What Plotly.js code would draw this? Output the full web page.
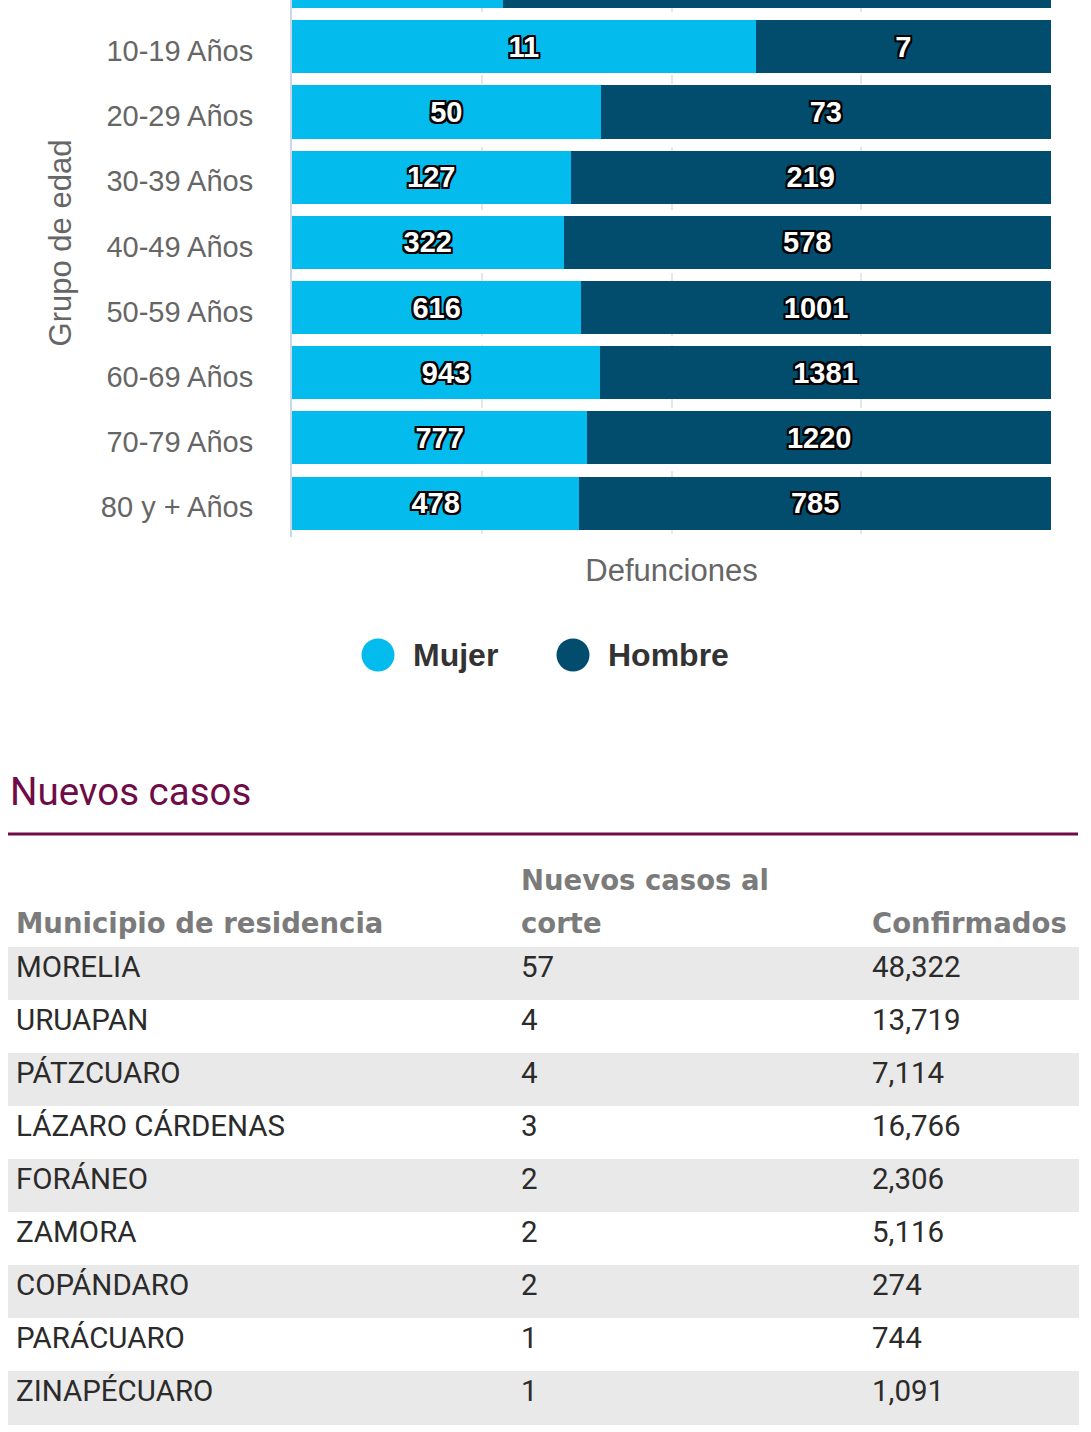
<!DOCTYPE html>
<html>
<head>
<meta charset="utf-8">
<script src="https://cdn.plot.ly/plotly-3.0.1.min.js"></script>
<style>
  html, body { margin: 0; padding: 0; background: #ffffff; width: 1091px; height: 1432px; overflow: hidden; }
  #chart { width: 1091px; height: 791px; margin-top: -51px; }
  #table { width: 1091px; height: 692px; }
</style>
</head>
<body>
<div id="chart"></div>
<div id="table"></div>
<script>
// ---- Data: deaths by age group and sex ----
const ageGroups = ['0-9 Años', '10-19 Años', '20-29 Años', '30-39 Años', '40-49 Años',
                   '50-59 Años', '60-69 Años', '70-79 Años', '80 y + Años'];
const mujer  = [5, 11, 50, 127, 322, 616, 943, 777, 478];
const hombre = [13, 7, 73, 219, 578, 1001, 1381, 1220, 785];
const seriesNames = ['Mujer', 'Hombre'];

// ---- Data: new cases table ----
const tableHeaders = [['', 'Municipio de residencia'], ['Nuevos casos al', 'corte'], ['', 'Confirmados']];
const municipios = ['MORELIA', 'URUAPAN', 'PÁTZCUARO', 'LÁZARO CÁRDENAS', 'FORÁNEO',
                    'ZAMORA', 'COPÁNDARO', 'PARÁCUARO', 'ZINAPÉCUARO'];
const nuevosCasos = [57, 4, 4, 3, 2, 2, 2, 1, 1];
const confirmados = [48322, 13719, 7114, 16766, 2306, 5116, 274, 744, 1091];

// ---- Styles ----
const C_MUJER = '#03bbec';
const C_HOMBRE = '#024d6e';
const C_TITLE = '#6e0c48';
const outline = '-2px -2px 0 #000, 2px -2px 0 #000, -2px 2px 0 #000, 2px 2px 0 #000, 0 2px 0 #000, 0 -2px 0 #000, 2px 0 0 #000, -2px 0 0 #000';
const labelFont = { family: 'Liberation Sans, Arial, sans-serif', size: 29, color: '#ffffff', weight: 700, shadow: outline };
// the top row lies above the visible page (cropped in the reference)
const labelPos = ageGroups.map((_, i) => i === 0 ? 'none' : 'inside');
const visibleTicks = ageGroups.slice(1);

function barTrace(name, values, color) {
  return {
    type: 'bar', orientation: 'h', name: name,
    y: ageGroups, x: values,
    marker: { color: color, line: { width: 0 } },
    text: values, texttemplate: '%{text}',
    textposition: labelPos, insidetextanchor: 'middle',
    constraintext: 'none',
    textfont: labelFont, insidetextfont: labelFont,
    showlegend: false, hoverinfo: 'skip'
  };
}

const gray = '#666666';
const axisFont = 'Liberation Sans, Arial, sans-serif';

// geometry of the plot area inside the chart div (div starts 51px above the page)
const DIV_H = 791, PLOT_W = 759, PLOT_H = 588, PLOT_L = 292, OFF = 51;
const legY = (PLOT_H - (655 + OFF)) / PLOT_H;
const legendItems = [
  { name: seriesNames[0], color: C_MUJER, cx: 378, tx: 411 },
  { name: seriesNames[1], color: C_HOMBRE, cx: 573, tx: 606 }
];

const layout1 = {
  width: 1091, height: DIV_H,
  margin: { l: PLOT_L, r: 1091 - PLOT_L - PLOT_W, t: 0, b: DIV_H - PLOT_H, pad: 0 },
  paper_bgcolor: '#ffffff', plot_bgcolor: '#ffffff',
  barmode: 'stack', barnorm: 'percent', bargap: 0.186,
  font: { family: axisFont, color: gray },
  xaxis: {
    range: [0, 100], tick0: 0, dtick: 25,
    showticklabels: false, ticks: '', zeroline: false,
    showgrid: true, gridcolor: '#e6e6e6', gridwidth: 2, griddash: 'dash',
    showline: false, fixedrange: true,
    title: { text: 'Defunciones', font: { family: axisFont, size: 31, color: gray }, standoff: 22 }
  },
  yaxis: {
    type: 'category', categoryorder: 'array', categoryarray: ageGroups,
    range: [8.52, -0.5],
    tickmode: 'array', tickvals: visibleTicks, ticktext: visibleTicks,
    ticks: '', ticklabelstandoff: 31, ticklabelshift: -4,
    tickfont: { family: axisFont, size: 29, color: gray },
    showgrid: false, zeroline: false,
    showline: true, linecolor: '#ccd6eb', linewidth: 2, fixedrange: true,
    title: { text: 'Grupo de edad', font: { family: axisFont, size: 31, color: gray }, standoff: 20 }
  },
  shapes: legendItems.map(it => ({
    type: 'circle', xref: 'paper', yref: 'paper',
    xsizemode: 'pixel', ysizemode: 'pixel',
    xanchor: (it.cx - PLOT_L) / PLOT_W, yanchor: legY,
    x0: -16.5, x1: 16.5, y0: -16.5, y1: 16.5,
    fillcolor: it.color, line: { width: 0 }
  })),
  annotations: legendItems.map(it => ({
    text: it.name, xref: 'paper', yref: 'paper',
    x: (it.tx - PLOT_L) / PLOT_W, y: legY, xanchor: 'left', yanchor: 'middle',
    showarrow: false,
    font: { family: axisFont, size: 32, color: '#333333', weight: 700 }
  })),
  showlegend: false
};

Plotly.newPlot('chart', [barTrace(seriesNames[0], mujer, C_MUJER), barTrace(seriesNames[1], hombre, C_HOMBRE)],
  layout1, { staticPlot: true, displayModeBar: false });

// ---- Table figure ----
const H2 = 692;
const stripes = municipios.map((_, i) => i % 2 === 0 ? '#e9e9e9' : '#ffffff');
const tableTrace = {
  type: 'table',
  domain: { x: [8 / 1091, 1078 / 1091], y: [1 - 685 / H2, 1 - 121 / H2] },
  columnwidth: [505, 351, 214],
  header: {
    values: tableHeaders,
    align: 'left', height: 43,
    fill: { color: '#ffffff' },
    line: { color: '#ffffff', width: 0 },
    font: { family: 'DejaVu Sans, sans-serif', size: 27.5, color: '#7b7b7b', weight: 700 }
  },
  cells: {
    values: [municipios, nuevosCasos, confirmados],
    format: ['', '', ','],
    align: 'left', height: 53,
    fill: { color: [stripes, stripes, stripes] },
    line: { color: [stripes, stripes, stripes], width: 1 },
    font: { family: 'Roboto, sans-serif', size: 29.5, color: '#2b2b2b' }
  }
};

const layout2 = {
  width: 1091, height: H2,
  margin: { l: 0, r: 0, t: 0, b: 0 },
  paper_bgcolor: '#ffffff',
  title: {
    text: 'Nuevos casos', xref: 'container', yref: 'container',
    x: 10 / 1091, xanchor: 'left', y: 1 - 52 / H2, yanchor: 'middle',
    font: { family: 'Roboto, sans-serif', size: 38.5, color: C_TITLE }
  },
  shapes: [{
    type: 'line', xref: 'paper', yref: 'paper',
    x0: 8 / 1091, x1: 1078 / 1091, y0: 1 - 94 / H2, y1: 1 - 94 / H2,
    line: { color: C_TITLE, width: 3 }
  }]
};

Plotly.newPlot('table', [tableTrace], layout2, { staticPlot: true, displayModeBar: false });
</script>
</body>
</html>
